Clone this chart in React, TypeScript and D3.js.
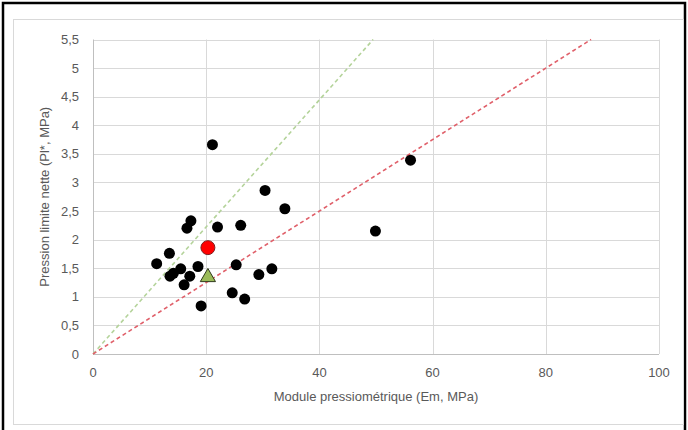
import React from "react";
import * as d3 from "d3";

const emValues = [21.1, 30.4, 33.9, 17.3, 16.6, 22.0, 26.1, 13.5, 11.25, 15.5, 18.55, 13.6, 14.2, 17.1, 16.1, 25.3, 29.3, 31.6, 24.6, 26.8, 19.1, 49.9, 56.1];
const plValues = [3.66, 2.86, 2.54, 2.33, 2.2, 2.22, 2.25, 1.76, 1.58, 1.49, 1.53, 1.36, 1.41, 1.36, 1.21, 1.56, 1.39, 1.49, 1.07, 0.96, 0.84, 2.15, 3.39];
const meanPoint = [20.3, 1.86];
const medianPoint = [20.3, 1.36];
const ratioLines = [
  { ratio: 9, color: "#b4d39a" },
  { ratio: 16, color: "#e0606a" },
];
const xTicks = [0, 20, 40, 60, 80, 100];
const yTicks = [0, 0.5, 1, 1.5, 2, 2.5, 3, 3.5, 4, 4.5, 5, 5.5];
const xTitle = "Module pressiométrique (Em, MPa)";
const yTitle = "Pression limite nette (Pl*, MPa)";

export default function App() {
  const W = 688, H = 430;
  const x = d3.scaleLinear().domain([0, 100]).range([93, 659]);
  const y = d3.scaleLinear().domain([0, 5.5]).range([354, 39.5]);
  const font = "'Liberation Sans', Arial, sans-serif";
  const textColor = "#595959";
  const grid = "#d9d9d9";
  const tri = d3.symbol().type(d3.symbolTriangle).size(100)();

  return (
    <svg width={W} height={H} style={{ position: "absolute", left: 0, top: 0, background: "#fff" }}>
      <rect x={0} y={0} width={W} height={H} fill="#fff" />
      <path d={`M3,${H} L3,3 L685,3 L685,${H}`} fill="none" stroke="#000" strokeWidth={2.5} />
      <rect x={13.5} y={19.5} width={670} height={405} fill="none" stroke="#d9d9d9" strokeWidth={1} />
      {yTicks.map((t) => (
        <line key={"gy" + t} x1={x(0)} x2={x(100)} y1={Math.round(y(t)) + 0.5} y2={Math.round(y(t)) + 0.5} stroke={t === 0 ? "#bfbfbf" : grid} strokeWidth={1} />
      ))}
      {xTicks.map((t) => (
        <line key={"gx" + t} x1={Math.round(x(t)) + 0.5} x2={Math.round(x(t)) + 0.5} y1={y(0)} y2={y(5.5)} stroke={t === 0 ? "#bfbfbf" : grid} strokeWidth={1} />
      ))}
      {yTicks.map((t) => (
        <text key={"ty" + t} x={79} y={y(t) + 4.5} textAnchor="end" fontFamily={font} fontSize={13} fill={textColor}>
          {String(t).replace(".", ",")}
        </text>
      ))}
      {xTicks.map((t) => (
        <text key={"tx" + t} x={x(t)} y={377} textAnchor="middle" fontFamily={font} fontSize={13} fill={textColor}>
          {t}
        </text>
      ))}
      <text x={x(50)} y={401} textAnchor="middle" fontFamily={font} fontSize={13} fill={textColor}>{xTitle}</text>
      <text transform={`translate(49,${y(2.75)}) rotate(-90)`} textAnchor="middle" fontFamily={font} fontSize={13} fill={textColor}>{yTitle}</text>
      {ratioLines.map((l) => {
        const xEnd = Math.min(100, 5.5 * l.ratio);
        return (
          <line key={l.ratio} x1={x(0)} y1={y(0)} x2={x(xEnd)} y2={y(xEnd / l.ratio)} stroke={l.color} strokeWidth={1.6} strokeDasharray="4,3" />
        );
      })}
      {emValues.map((e, i) => (
        <circle key={i} cx={x(e)} cy={y(plValues[i])} r={5.5} fill="#000" />
      ))}
      <circle cx={x(meanPoint[0])} cy={y(meanPoint[1])} r={7} fill="#ff0000" stroke="#7f1f1f" strokeWidth={1} />
      <path d={tri} transform={`translate(${x(medianPoint[0])},${y(medianPoint[1]) + 1})`} fill="#9bbb59" stroke="#2f3a1c" strokeWidth={1} />
    </svg>
  );
}
